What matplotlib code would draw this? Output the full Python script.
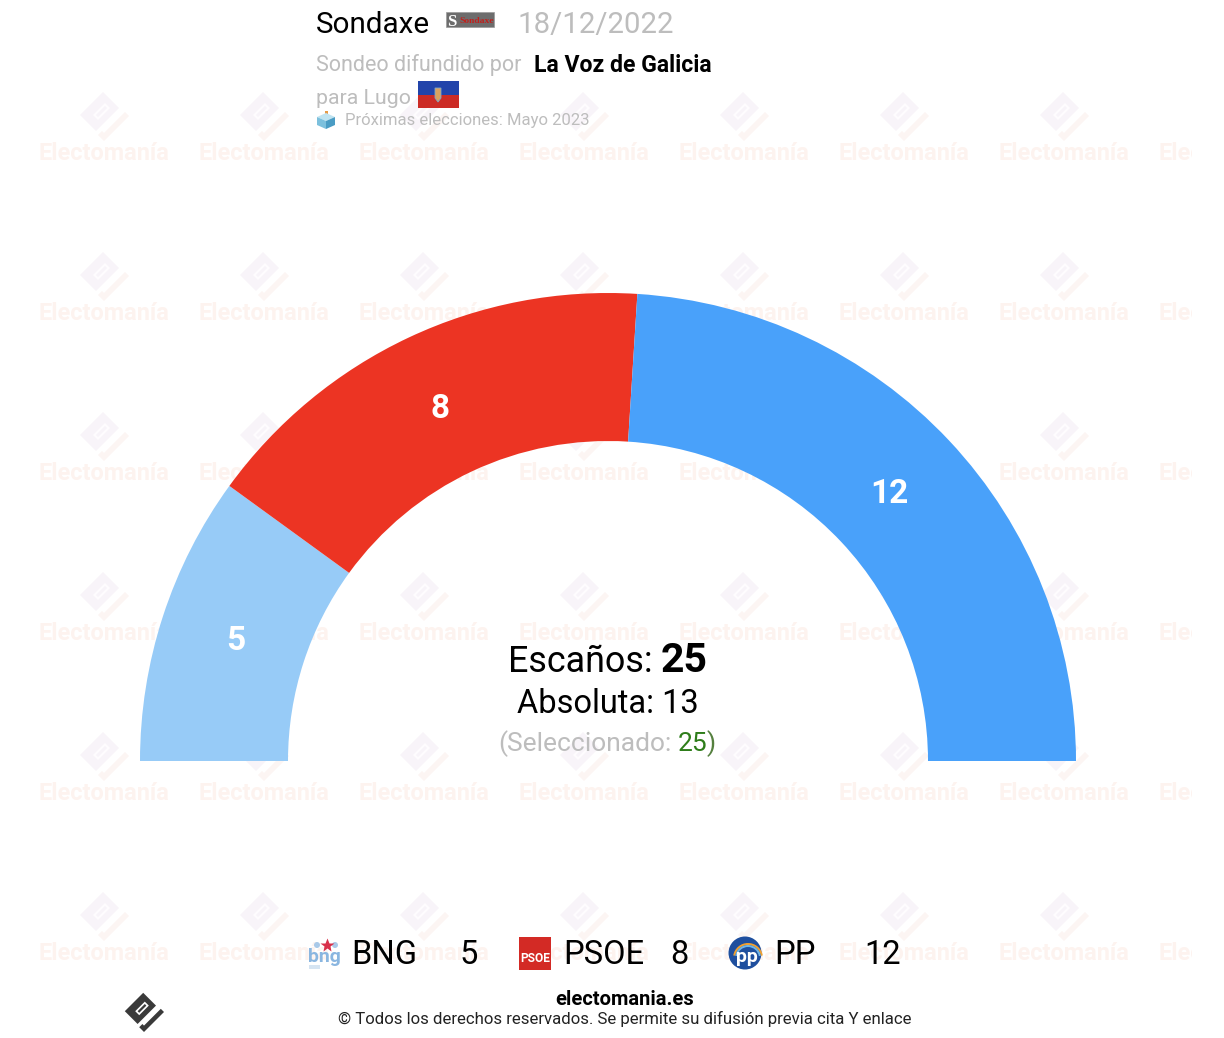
import matplotlib
matplotlib.use("Agg")
import matplotlib.pyplot as plt
import numpy as np
from matplotlib.patches import Circle, Polygon, Rectangle, Wedge

plt.rcParams["font.family"] = ["Roboto", "DejaVu Sans"]

parties = ["BNG", "PSOE", "PP"]
seats = [5, 8, 12]
party_colors = ["#97cbf7", "#ec3423", "#49a1fa"]
total_seats = 25
majority = 13
selected = 25

GREY = "#bdbdbd"
W, H = 1224, 1038

fig = plt.figure(figsize=(W / 100, H / 100), dpi=100, facecolor="white")


def pixel_axes(zorder):
    ax = fig.add_axes([0, 0, 1, 1], zorder=zorder)
    ax.set_xlim(0, W)
    ax.set_ylim(H, 0)
    ax.axis("off")
    ax.patch.set_alpha(0)
    return ax


def draw_logo(ax, cx, cy, k, body, check, slot, slot_fill, z=1):
    pts_body = [(-1, -24), (-24, -1), (-8, 15), (15, -8)]
    pts_check = [(-6, 19), (0, 25), (25, 0), (21, -4), (0, 17), (-2, 15)]
    pts_slot = [(-11, -1), (1, -13), (6, -8), (-6, 4)]
    pts_inner = [(-8, -1), (1, -10), (3, -8), (-6, 1)]

    def move(pts):
        return [(cx + k * x, cy + k * y) for x, y in pts]

    ax.add_patch(Polygon(move(pts_body), fc=body, ec="none", zorder=z))
    ax.add_patch(Polygon(move(pts_check), fc=check, ec="none", zorder=z))
    ax.add_patch(Polygon(move(pts_slot), fc=slot, ec="none", zorder=z))
    ax.add_patch(Polygon(move(pts_inner), fc=slot_fill, ec="none", zorder=z))


# watermark, sits under the arc
bg = pixel_axes(0)
clip = Rectangle((0, 0), 1192, H, transform=bg.transData)
for row in range(6):
    for col in range(8):
        x = 104 + 160 * col
        if x < 1170:
            draw_logo(bg, x, 116 + 160 * row, 1, "#f8f4f9", "#fcf5f3", "#fefcfe", "#f8f4f9")
        t = bg.text(x, 160 + 160 * row, "Electomanía", fontsize=16.9, fontweight="bold",
                    color="#fdf3ef", ha="center", va="baseline", clip_on=True)
        t.set_clip_path(clip)

# seats arc
ax = fig.add_axes([(608 - 468) / W, (H - 761 - 468) / H, 936 / W, 936 / H], zorder=1)
wedges, _ = ax.pie(seats + [total_seats], colors=party_colors + ["none"], startangle=180,
                   counterclock=False, radius=1, wedgeprops={"width": 148 / 468})
ax.set_xlim(-1, 1)
ax.set_ylim(-1, 1)
ax.patch.set_alpha(0)
for w, n in zip(wedges[:-1], seats):
    a = np.deg2rad((w.theta1 + w.theta2) / 2)
    ax.text(0.832 * np.cos(a) - 0.005, 0.832 * np.sin(a), str(n),
            color="white", fontsize=24, fontweight="bold", ha="center", va="center")

fg = pixel_axes(2)

# header
fg.text(316, 33, "Sondaxe", fontsize=21.3, color="black")
fg.text(517, 33, "18/12/2022", fontsize=21.2, color=GREY)
fg.text(316, 71, "Sondeo difundido por", fontsize=15.5, color=GREY)
fg.text(534, 72, "La Voz de Galicia", fontsize=16.55, color="black", fontweight="bold")
fg.text(316, 104, "para Lugo", fontsize=15.3, color=GREY)
fg.text(345, 125, "Próximas elecciones: Mayo 2023", fontsize=12, color=GREY)

# pollster logo
fg.add_patch(Rectangle((446, 12), 48, 15, fc="#6d6d6d", ec="#9a9a9a", lw=0.5))
fg.text(452, 26, "S", fontsize=12, color="white", family="Liberation Serif",
        fontweight="bold", ha="center")
fg.text(476.5, 23, "Sondaxe", fontsize=6.8, color="#c0201c", family="Liberation Serif",
        fontweight="bold", ha="center")

# Lugo flag
fg.add_patch(Rectangle((418, 81), 41, 13.5, fc="#2244aa", ec="none"))
fg.add_patch(Rectangle((418, 94.5), 41, 13.5, fc="#cc2b25", ec="none"))
fg.add_patch(Polygon([(435, 88), (441, 88), (441, 98), (438, 102), (435, 98)], fc="#d9a25f", ec="#7fa6c9", lw=0.6))

# ballot box icon
fg.add_patch(Polygon([(325, 111), (328, 111), (328, 118), (325, 118)], fc="#e79a45", ec="none"))
fg.add_patch(Polygon([(317, 117), (326, 113), (335, 117), (326, 121)], fc="#bfe3f0", ec="none"))
fg.add_patch(Polygon([(317, 117), (326, 121), (326, 129), (317, 125)], fc="#7cc0dd", ec="none"))
fg.add_patch(Polygon([(335, 117), (326, 121), (326, 129), (335, 125)], fc="#4a9cc4", ec="none"))

# centre text
fg.text(508, 672, "Escaños:", fontsize=25.8, color="black")
fg.text(661, 672, str(total_seats), fontsize=29.5, color="black", fontweight="bold")
fg.text(607.5, 713, f"Absoluta: {majority}", fontsize=23.5, color="black", ha="center")
fg.text(498, 751, "(Seleccionado:", fontsize=19, color=GREY)
fg.text(678, 751, str(selected), fontsize=19, color="#2e7d1a")
fg.text(707, 751, ")", fontsize=19, color="#55803f")

# legend
name_x = [351, 563, 774]
value_x = [459, 670, 864]
for name, n, nx, vx in zip(parties, seats, name_x, value_x):
    fg.text(nx, 964, name, fontsize=23.5, color="black")
    fg.text(vx, 964, str(n), fontsize=23.5, color="black")

# party logos
fg.text(324, 962, "bng", fontsize=14, color="#8ab6e0", fontweight="bold", ha="center")
fg.plot([327], [945], marker="*", ms=10, color="#d8304a", mec="none")
fg.add_patch(Circle((317, 945), 3, fc="#a9c9e8", ec="none"))
fg.add_patch(Circle((335, 945), 3, fc="#a9c9e8", ec="none"))
fg.add_patch(Rectangle((309, 965), 11, 4, fc="#d5e4f2", ec="none"))
fg.add_patch(Rectangle((519, 937), 32, 33, fc="#d32a25", ec="none"))
fg.text(535, 962, "PSOE", fontsize=8.6, color="white", fontweight="bold", ha="center")
fg.add_patch(Circle((745, 953), 16.5, fc="#1f4f9e", ec="none"))
fg.add_patch(Wedge((748, 958), 15, 190, 350, width=2, fc="#f0a030", ec="none"))
fg.add_patch(Wedge((748, 958), 13, 190, 350, width=2, fc="#6fb6e8", ec="none"))
fg.text(747, 962, "pp", fontsize=14, color="white", fontweight="bold", ha="center")

# footer
draw_logo(fg, 144, 1012, 0.8, "#3a3a3a", "#3a3a3a", "white", "#3a3a3a")
fg.text(625, 1005, "electomania.es", fontsize=14.5, color="black", fontweight="bold", ha="center")
fg.text(625, 1024, "© Todos los derechos reservados. Se permite su difusión previa cita Y enlace",
        fontsize=12.1, color="#222222", ha="center")

fig.savefig("out.png", dpi=100, facecolor="white")
